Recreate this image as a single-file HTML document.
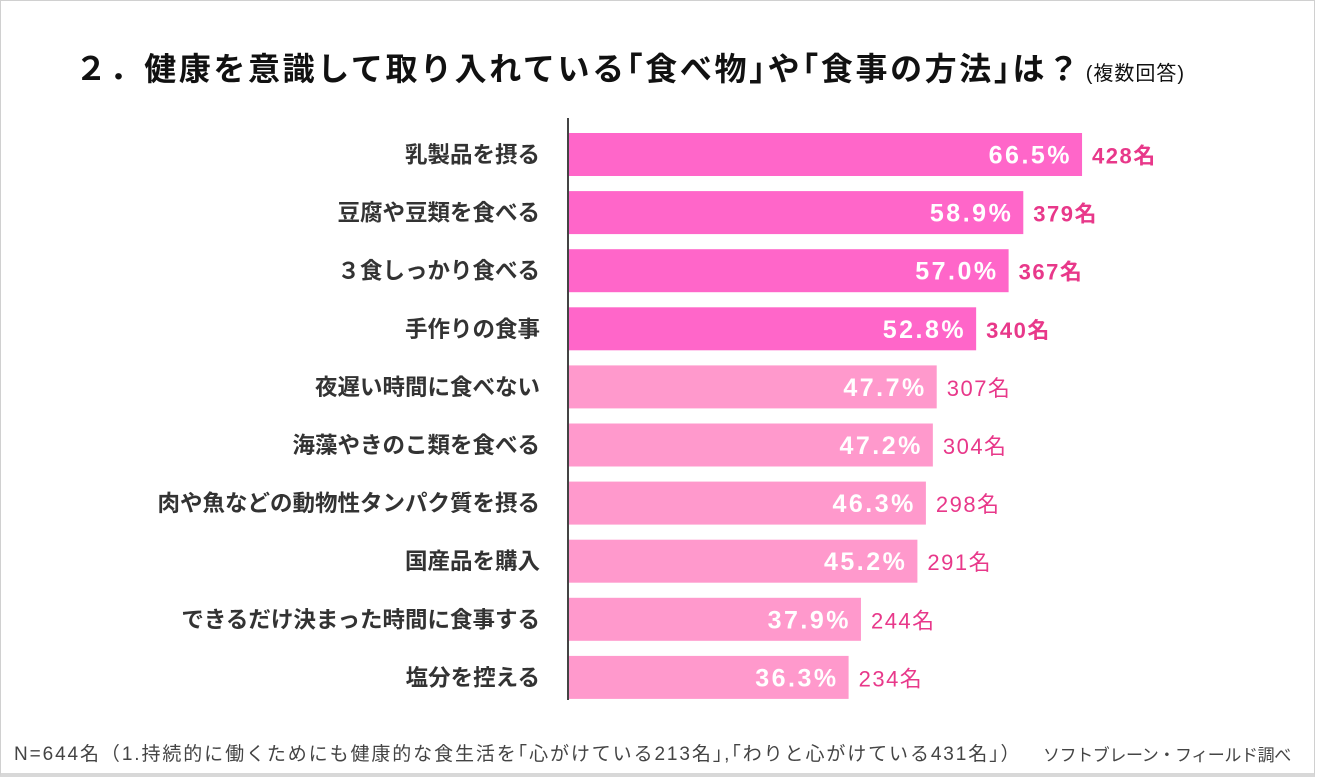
<!DOCTYPE html>
<html><head><meta charset="utf-8"><style>
html,body{margin:0;padding:0;background:#fff;}
body{width:1317px;height:782px;position:relative;overflow:hidden;font-family:"Liberation Sans","Noto Sans CJK JP",sans-serif;}
#frame{position:absolute;left:0;top:0;width:1315px;height:777px;border:1px solid #d0d0d0;border-bottom:4px solid #d8d8d8;box-sizing:border-box;}
#title{position:absolute;left:75px;top:44px;font-size:32px;font-weight:bold;color:#111;white-space:nowrap;letter-spacing:2.6px;}
#title small{font-size:20px;font-weight:normal;letter-spacing:1px;margin-left:4px;}
#foot{position:absolute;left:14px;top:739px;font-size:19px;color:#444;white-space:nowrap;letter-spacing:1.9px;}
#src{position:absolute;left:1043px;top:741px;font-size:17px;color:#444;white-space:nowrap;letter-spacing:-0.4px;}
</style></head><body>
<div id="frame"></div>
<div id="title">２．健康を意識して取り入れている｢食べ物｣や｢食事の方法｣は？<small>(複数回答)</small></div>
<svg id="chart" width="1317" height="782" style="position:absolute;left:0;top:0"></svg>
<div id="foot">N=644名（1.持続的に働くためにも健康的な食生活を｢心がけている213名｣,｢わりと心がけている431名｣）</div>
<div id="src">ソフトブレーン・フィールド調べ</div>
<script>
const categories=["乳製品を摂る","豆腐や豆類を食べる","３食しっかり食べる","手作りの食事","夜遅い時間に食べない","海藻やきのこ類を食べる","肉や魚などの動物性タンパク質を摂る","国産品を購入","できるだけ決まった時間に食事する","塩分を控える"];
const percents=[66.5,58.9,57.0,52.8,47.7,47.2,46.3,45.2,37.9,36.3];
const counts=[428,379,367,340,307,304,298,291,244,234];
const highlightCount=4;
const NS="http://www.w3.org/2000/svg";
const svg=document.getElementById('chart');
const x0=568, pxPer=7.73;
function xs(v){return x0+v*pxPer;}
function yc(i){return 154.5+i*58.1;}
const barH=43;
function mk(tag,attrs,txt){const e=document.createElementNS(NS,tag);for(const k in attrs)e.setAttribute(k,attrs[k]);if(txt!==undefined)e.textContent=txt;svg.appendChild(e);return e;}
const font='"Liberation Sans","Noto Sans CJK JP",sans-serif';
categories.forEach((c,i)=>{
  const hi=i<highlightCount;
  const r=mk('rect',{x:x0,y:yc(i)-barH/2,width:xs(percents[i])-x0,height:barH,fill:hi?'#ff66c9':'#ff99cc'});
  
  
  const l=mk('text',{x:540,y:yc(i)+8,'text-anchor':'end','font-size':22.5,'font-weight':'bold',fill:'#333','font-family':font},c);
  
  
  const p=mk('text',{x:xs(percents[i])-10,y:yc(i)+9,'text-anchor':'end','font-size':25,'font-weight':'bold',fill:'#fff','font-family':font,'letter-spacing':2.5},percents[i].toFixed(1)+'%');
  
  
  const n=mk('text',{x:xs(percents[i])+10,y:yc(i)+9,'font-size':22,'font-weight':hi?'bold':'normal',fill:'#e8388a','font-family':font,'letter-spacing':1.5},counts[i]+'名');
  
  
});
const ax=mk('line',{x1:x0,y1:118,x2:x0,y2:700,stroke:'#444','stroke-width':2});


</script>
</body></html>
